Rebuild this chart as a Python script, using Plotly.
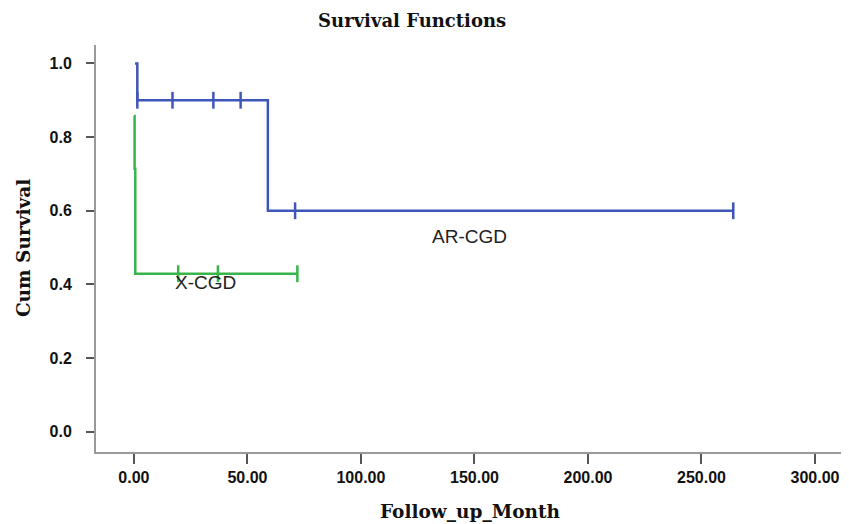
import plotly.graph_objects as go

# AR-CGD Kaplan-Meier steps
ar_time = [0.5, 1.5, 59, 264]
ar_surv = [1.0, 0.9, 0.6, 0.6]
ar_cens_time = [1.5, 17, 35, 47, 71, 264]
ar_cens_surv = [0.9, 0.9, 0.9, 0.9, 0.6, 0.6]

# X-CGD Kaplan-Meier steps
x_time = [0, 0.3, 0.6, 72]
x_surv = [0.857, 0.714, 0.429, 0.429]
x_cens_time = [19.5, 37, 72]
x_cens_surv = [0.429, 0.429, 0.429]

x_ticks = [0, 50, 100, 150, 200, 250, 300]
x_ticklabels = ["0.00", "50.00", "100.00", "150.00", "200.00", "250.00", "300.00"]
y_ticks = [0.0, 0.2, 0.4, 0.6, 0.8, 1.0]
y_ticklabels = ["0.0", "0.2", "0.4", "0.6", "0.8", "1.0"]

blue = "#3E56B8"
green = "#37B44A"
serif = "DejaVu Serif"
sans = "Liberation Sans"

fig = go.Figure()
fig.add_trace(go.Scatter(x=ar_time, y=ar_surv, mode="lines", line=dict(color=blue, width=2.5, shape="hv"),
                         showlegend=False, hoverinfo="skip"))
fig.add_trace(go.Scatter(x=ar_cens_time, y=ar_cens_surv, mode="markers",
                         marker=dict(symbol="line-ns-open", size=12, color=blue, line=dict(color=blue, width=2.5)),
                         showlegend=False))
fig.add_trace(go.Scatter(x=x_time, y=x_surv, mode="lines", line=dict(color=green, width=2.5, shape="hv"),
                         showlegend=False, hoverinfo="skip"))
fig.add_trace(go.Scatter(x=x_cens_time, y=x_cens_surv, mode="markers",
                         marker=dict(symbol="line-ns-open", size=12, color=green, line=dict(color=green, width=2.5)),
                         showlegend=False))

fig.add_annotation(x=148, y=0.53, text="AR-CGD", showarrow=False,
                   font=dict(family=sans, size=19, color="#222"))
fig.add_annotation(x=31.5, y=0.405, text="X-CGD", showarrow=False,
                   font=dict(family=sans, size=19, color="#222"))

# axis titles
fig.add_annotation(xref="paper", yref="paper", x=0.4915, y=-0.145, text="<b>Follow_up_Month</b>",
                   showarrow=False, xanchor="center", yanchor="middle",
                   font=dict(family=serif, size=18.5, color="#111"))
fig.add_annotation(xref="paper", yref="paper", x=-0.0959, y=0.501, text="<b>Cum Survival</b>",
                   showarrow=False, xanchor="center", yanchor="middle", textangle=-90,
                   font=dict(family=serif, size=18.5, color="#111"))

fig.update_layout(
    width=849, height=524,
    margin=dict(l=88, r=0, t=37, b=80),
    plot_bgcolor="white", paper_bgcolor="white",
    title=dict(text="<b>Survival Functions</b>", x=0.476, xanchor="center", y=0.975, yanchor="middle",
               font=dict(family=serif, size=18, color="#111")),
    xaxis=dict(range=[-16.7, 318.5], tickvals=x_ticks, ticktext=x_ticklabels, automargin=False,
               showgrid=False, zeroline=False, showline=True, linecolor="#999", linewidth=2,
               ticks="outside", ticklen=10, tickwidth=1.5, tickcolor="#555",
               tickfont=dict(family=sans, size=16, color="#111", weight="bold")),
    yaxis=dict(range=[-0.055, 1.05], tickvals=y_ticks, ticktext=y_ticklabels, automargin=False,
               showgrid=False, zeroline=False, showline=True, linecolor="#999", linewidth=2,
               ticks="outside", ticklen=8, tickwidth=1.5, tickcolor="#555", ticklabelstandoff=11,
               tickfont=dict(family=sans, size=16, color="#111", weight="bold")),
)

fig.write_html("out.html")
